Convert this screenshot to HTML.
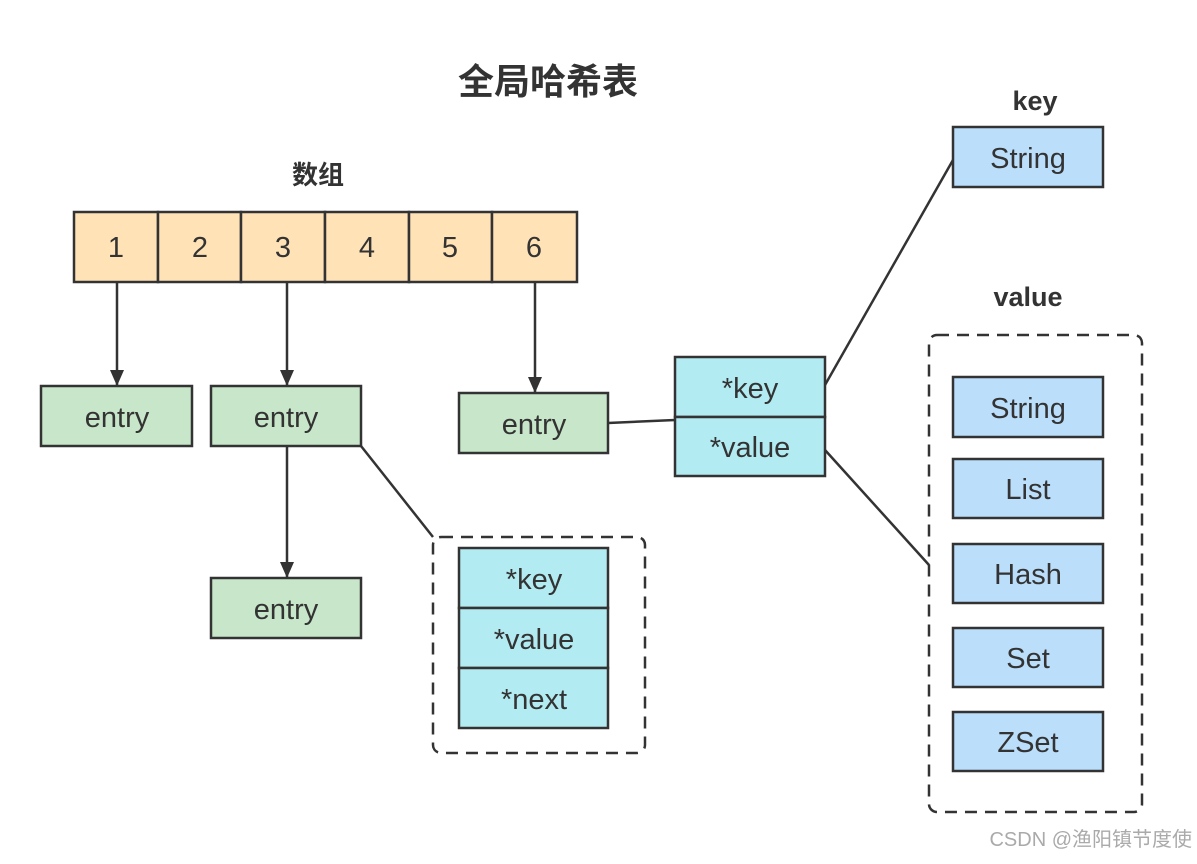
<!DOCTYPE html>
<html><head><meta charset="utf-8"><style>
body{margin:0;background:#fff;}
svg text{font-family:"Liberation Sans","Noto Sans CJK SC",sans-serif;fill:#333;}
</style></head><body>
<svg width="1197" height="859" viewBox="0 0 1197 859" xmlns="http://www.w3.org/2000/svg">
<defs>
<marker id="b" viewBox="0 0 16 14" markerWidth="16" markerHeight="14" refX="16" refY="7" orient="auto" markerUnits="userSpaceOnUse"><path d="M0,0 L16,7 L0,14 Z" fill="#333"/></marker></defs>
<g stroke="#333" stroke-width="2.5">
<text x="548" y="94" font-size="36" font-weight="bold" text-anchor="middle" stroke="none">全局哈希表</text>
<text x="318" y="184" font-size="26" font-weight="bold" text-anchor="middle" stroke="none">数组</text>
<text x="1035" y="110" font-size="27" font-weight="bold" text-anchor="middle" stroke="none">key</text>
<text x="1028" y="306" font-size="27" font-weight="bold" text-anchor="middle" stroke="none">value</text>
<g fill="#ffe2b6">
<rect x="74" y="212" width="84" height="70"/><rect x="158" y="212" width="83" height="70"/><rect x="241" y="212" width="84" height="70"/><rect x="325" y="212" width="84" height="70"/><rect x="409" y="212" width="83" height="70"/><rect x="492" y="212" width="85" height="70"/>
</g>
<g font-size="29" text-anchor="middle" stroke="none">
<text x="116" y="257">1</text><text x="200" y="257">2</text><text x="283" y="257">3</text><text x="367" y="257">4</text><text x="450" y="257">5</text><text x="534" y="257">6</text>
</g>
<line x1="117" y1="282" x2="117" y2="386" marker-end="url(#b)"/>
<line x1="287" y1="282" x2="287" y2="386" marker-end="url(#b)"/>
<line x1="535" y1="282" x2="535" y2="393" marker-end="url(#b)"/>
<line x1="287" y1="446" x2="287" y2="578" marker-end="url(#b)"/>
<g fill="#c8e6c9">
<rect x="41" y="386" width="151" height="60"/><rect x="211" y="386" width="150" height="60"/><rect x="211" y="578" width="150" height="60"/><rect x="459" y="393" width="149" height="60"/>
</g>
<g font-size="29" text-anchor="middle" stroke="none">
<text x="117" y="427">entry</text><text x="286" y="427">entry</text><text x="286" y="619">entry</text><text x="534" y="434">entry</text>
</g>
<line x1="608" y1="423" x2="675" y2="420"/>
<line x1="825" y1="385" x2="953" y2="160"/>
<line x1="825" y1="450" x2="929" y2="565"/>
<line x1="361" y1="446" x2="433" y2="537"/>
<rect x="675" y="357" width="150" height="60" fill="#b2ebf2"/><rect x="675" y="417" width="150" height="59" fill="#b2ebf2"/>
<text x="750" y="398" font-size="29" text-anchor="middle" stroke="none">*key</text>
<text x="750" y="457" font-size="29" text-anchor="middle" stroke="none">*value</text>
<rect x="953" y="127" width="150" height="60" fill="#bbdefb"/>
<text x="1028" y="168" font-size="29" text-anchor="middle" stroke="none">String</text>
<rect x="929" y="335" width="213" height="477" rx="8" fill="none" stroke-dasharray="12 8"/>
<g fill="#bbdefb">
<rect x="953" y="377" width="150" height="60"/><rect x="953" y="459" width="150" height="59"/><rect x="953" y="544" width="150" height="59"/><rect x="953" y="628" width="150" height="59"/><rect x="953" y="712" width="150" height="59"/>
</g>
<g font-size="29" text-anchor="middle" stroke="none">
<text x="1028" y="418">String</text><text x="1028" y="499">List</text><text x="1028" y="584">Hash</text><text x="1028" y="668">Set</text><text x="1028" y="752">ZSet</text>
</g>
<rect x="433" y="537" width="212" height="216" rx="8" fill="none" stroke-dasharray="12 8"/>
<g fill="#b2ebf2">
<rect x="459" y="548" width="149" height="60"/><rect x="459" y="608" width="149" height="60"/><rect x="459" y="668" width="149" height="60"/>
</g>
<g font-size="29" text-anchor="middle" stroke="none">
<text x="534" y="589">*key</text><text x="534" y="649">*value</text><text x="534" y="709">*next</text>
</g>
<text x="1192" y="846" font-size="20" text-anchor="end" stroke="none" style="fill:#aaa">CSDN @渔阳镇节度使</text>
</g>
</svg>
</body></html>
